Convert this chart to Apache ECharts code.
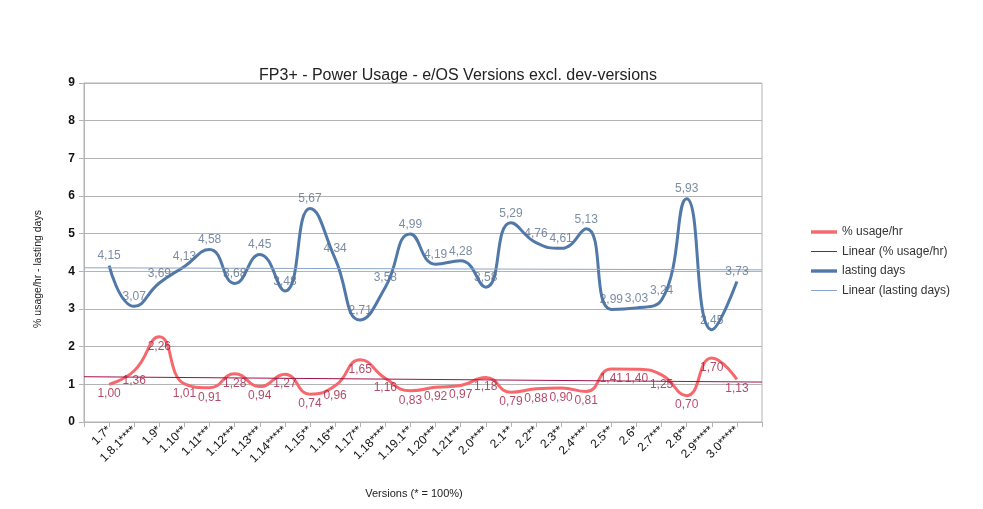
<!DOCTYPE html>
<html>
<head>
<meta charset="utf-8">
<script src="https://cdn.jsdelivr.net/npm/echarts@6/dist/echarts.min.js"></script>
<style>
  html, body { margin: 0; padding: 0; background: #fff; }
  #main { width: 983px; height: 509px; }
</style>
</head>
<body>
<div id="main"></div>
<script>
// versions on the x axis
var versions = ['1.7*', '1.8.1****', '1.9*', '1.10**', '1.11***', '1.12***', '1.13***', '1.14*****',
  '1.15**', '1.16**', '1.17**', '1.18****', '1.19.1**', '1.20***', '1.21***', '2.0****',
  '2.1**', '2.2**', '2.3**', '2.4****', '2.5**', '2.6*', '2.7***', '2.8**', '2.9*****', '3.0*****'];
// % usage per hour
var usage = [1.00, 1.36, 2.26, 1.01, 0.91, 1.28, 0.94, 1.27, 0.74, 0.96, 1.65, 1.16, 0.83,
  0.92, 0.97, 1.18, 0.79, 0.88, 0.90, 0.81, 1.41, 1.40, 1.25, 0.70, 1.70, 1.13];
// lasting days
var lasting = [4.15, 3.07, 3.69, 4.13, 4.58, 3.68, 4.45, 3.48, 5.67, 4.34, 2.71, 3.58, 4.99,
  4.19, 4.28, 3.58, 5.29, 4.76, 4.61, 5.13, 2.99, 3.03, 3.24, 5.93, 2.45, 3.73];
var yTicks = [0, 1, 2, 3, 4, 5, 6, 7, 8, 9];

var FONT = 'Liberation Sans';
// legend icons: a line inside a 26x14 box
var THICK = 'path://M0,0M26,14M0,5.3H26V8.7H0Z';
var THIN = 'path://M0,0M26,14M0,6.5H26V7.5H0Z';

function pairs(arr) {
  return arr.map(function (v, i) { return [i, v]; });
}

// least squares trend, drawn across the whole plot width
function trend(arr) {
  var n = arr.length, sx = 0, sy = 0, sxy = 0, sxx = 0;
  arr.forEach(function (v, i) { sx += i; sy += v; sxy += i * v; sxx += i * i; });
  var b = (n * sxy - sx * sy) / (n * sxx - sx * sx);
  var a = (sy - b * sx) / n;
  return [[-1, a - b], [n, a + b * n]];
}

function comma(p) {
  return p.value[1].toFixed(2).replace('.', ',');
}

// invisible points that only carry the value labels
function labelSeries(name, arr, pos, color) {
  return {
    name: name, type: 'scatter', data: pairs(arr),
    symbolSize: 1, itemStyle: { color: 'rgba(0,0,0,0)' },
    label: {
      show: true, position: pos, distance: 3, formatter: comma,
      fontSize: 12, color: color, fontFamily: FONT
    },
    silent: true, z: 5
  };
}

var myChart = echarts.init(document.getElementById('main'));
myChart.setOption({
  animation: false,
  textStyle: { fontFamily: FONT },
  title: {
    text: 'FP3+ - Power Usage - e/OS Versions excl. dev-versions',
    left: 453, top: 63, textAlign: 'center',
    textStyle: { fontFamily: FONT, fontSize: 16, fontWeight: 'normal', color: '#222' }
  },
  graphic: [
    {
      type: 'text', x: 38, y: 269, rotation: Math.PI / 2,
      style: {
        text: '% usage/hr - lasting days', fill: '#222', font: '10.5px "Liberation Sans"',
        textAlign: 'center', textVerticalAlign: 'middle'
      }
    },
    {
      type: 'text', x: 414, y: 494,
      style: {
        text: 'Versions (* = 100%)', fill: '#222', font: '11px "Liberation Sans"',
        textAlign: 'center', textVerticalAlign: 'middle'
      }
    }
  ],
  legend: {
    orient: 'vertical',
    left: 806, top: 220,
    itemWidth: 26, itemHeight: 14, itemGap: 5.5,
    textStyle: { fontFamily: FONT, fontSize: 12, color: '#333' },
    data: [
      { name: '% usage/hr', icon: THICK },
      { name: 'Linear (% usage/hr)', icon: THIN },
      { name: 'lasting days', icon: THICK },
      { name: 'Linear (lasting days)', icon: THIN }
    ]
  },
  grid: {
    left: 84, right: 221, top: 83, bottom: 87,
    show: true, borderColor: '#b3b3b3', borderWidth: 1
  },
  xAxis: {
    type: 'value',
    min: -1, max: versions.length, interval: 1,
    axisLine: { onZero: false, lineStyle: { color: '#b3b3b3' } },
    axisTick: { show: true, length: 5, lineStyle: { color: '#b3b3b3' } },
    splitLine: { show: false },
    axisLabel: {
      rotate: 45, margin: 6, fontSize: 12, color: '#111', fontFamily: FONT,
      showMinLabel: true, showMaxLabel: true,
      formatter: function (v) { return versions[v] || ''; }
    }
  },
  yAxis: {
    type: 'value',
    min: 0, max: 9, interval: 1,
    axisLine: { show: true, onZero: false, lineStyle: { color: '#b3b3b3' } },
    axisTick: { show: true, length: 5, lineStyle: { color: '#b3b3b3' } },
    splitLine: { lineStyle: { color: '#b3b3b3' } },
    axisLabel: {
      margin: 9, fontSize: 12, fontWeight: 'bold', color: '#111', fontFamily: FONT,
      formatter: function (v) { return yTicks.indexOf(v) >= 0 ? String(v) : ''; }
    }
  },
  series: [
    {
      name: '% usage/hr', type: 'line', smooth: 0.5, symbol: 'none',
      data: pairs(usage),
      lineStyle: { color: '#f6686c', width: 3 },
      itemStyle: { color: '#f6686c' },
      z: 3
    },
    {
      name: 'Linear (% usage/hr)', type: 'line', symbol: 'none',
      data: trend(usage),
      lineStyle: { color: '#a0104a', width: 1 },
      itemStyle: { color: '#a0104a' },
      z: 4
    },
    {
      name: 'lasting days', type: 'line', smooth: 0.5, symbol: 'none',
      data: pairs(lasting),
      lineStyle: { color: '#5078a8', width: 3 },
      itemStyle: { color: '#5078a8' },
      z: 3
    },
    {
      name: 'Linear (lasting days)', type: 'line', symbol: 'none',
      data: trend(lasting),
      lineStyle: { color: '#8aa6cc', width: 1 },
      itemStyle: { color: '#8aa6cc' },
      z: 4
    },
    labelSeries('usageLabels', usage, 'bottom', '#a31b42'),
    labelSeries('lastingLabels', lasting, 'top', '#5a6f8c')
  ]
});
</script>
</body>
</html>
